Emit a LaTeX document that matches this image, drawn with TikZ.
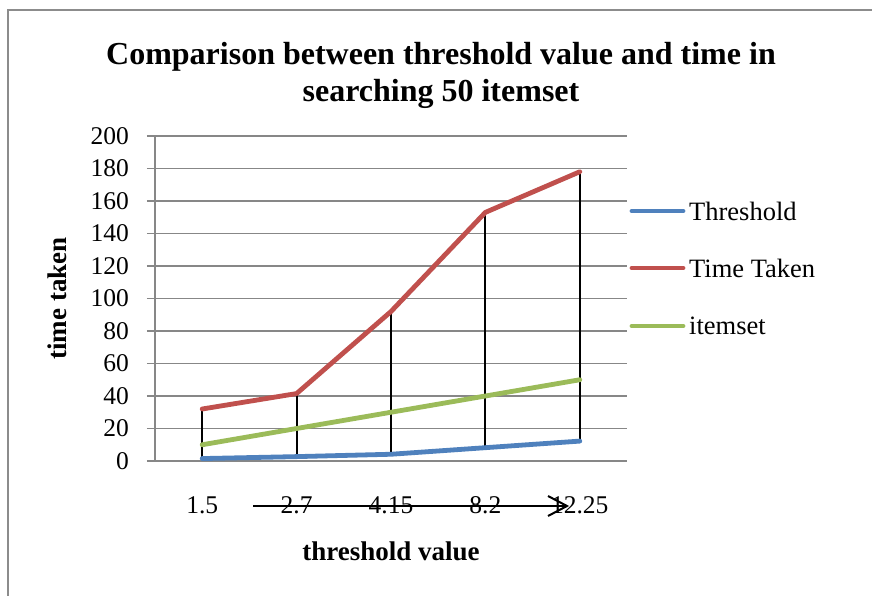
\documentclass[tikz,border=0pt]{standalone}
\usepackage{fontspec}
\setmainfont{Liberation Serif}
\begin{document}
\begin{tikzpicture}[x=1pt,y=-1pt,
  frameline/.style={draw=black!45,line width=2pt},
  gridline/.style={draw=black!47,line width=1.4pt},
  series/.style={line width=4.8pt,line cap=round,line join=round},
  dropline/.style={draw=black,line width=2pt},
  ticklabel/.style={inner sep=0pt,font=\fontsize{25.5}{30}\selectfont},
  axistitle/.style={inner sep=0pt,font=\fontsize{27}{32}\selectfont\bfseries},
  legendtext/.style={inner sep=0pt,anchor=west,font=\fontsize{26.5}{31}\selectfont}]
\definecolor{serblue}{HTML}{4F81BD}
\definecolor{serred}{HTML}{C0504D}
\definecolor{sergreen}{HTML}{9BBB59}
\useasboundingbox (0,0) rectangle (872,596);
\fill[white] (0,0) rectangle (872,596);
% chart frame (open to the right and bottom edges)
\draw[frameline] (7.5,600) -- (7.5,10) -- (880,10);
% title
\node[font=\fontsize{32}{37}\selectfont\bfseries,align=center,inner sep=0pt] (title) at (441,75)
  {Comparison between threshold value and time in\\searching 50 itemset};
% plot area: categories at x = 0..4, values in data units
\begin{scope}[shift={(202.2,461)},x=94.4pt,y=1.625pt]
  \foreach \v in {0,20,...,200} {
    \draw[gridline] (-0.5853,\v) -- (4.5,\v);
    \node[ticklabel,anchor=east] (yl\v) at (-0.775,\v) {\v};
  }
  \draw[gridline] (-0.5,0) -- (-0.5,200);
  % data points
  \foreach \i/\a/\b/\c in {0/1.5/32/10,1/2.7/41.5/20,2/4.15/92/30,3/8.2/153/40,4/12.25/178/50} {
    \coordinate (th\i) at (\i,\a);
    \coordinate (tt\i) at (\i,\b);
    \coordinate (it\i) at (\i,\c);
  }
  % high-low lines
  \foreach \i in {0,...,4} \draw[dropline] (tt\i) -- (th\i);
  \draw[series,draw=serblue] (th0) -- (th1) -- (th2) -- (th3) -- (th4);
  \draw[series,draw=sergreen] (it0) -- (it1) -- (it2) -- (it3) -- (it4);
  \draw[series,draw=serred] (tt0) -- (tt1) -- (tt2) -- (tt3) -- (tt4);
  % category labels
  \foreach \i/\t in {0/1.5,1/2.7,2/4.15,3/8.2,4/12.25}
    \node[ticklabel] (xl\i) at (\i,-27) {\t};
\end{scope}
% arrow along the category axis
\coordinate (arrA) at (253,506);
\coordinate (arrB) at (567,506);
\draw[line width=2pt] (arrA) -- (arrB);
\draw[line width=2pt,line join=miter] ([shift={(-19,-10)}]arrB) -- (arrB) -- ([shift={(-19,10)}]arrB);
% axis titles
\node[axistitle,rotate=90] (ytitle) at (57,298.5) {time taken};
\node[axistitle] (xtitle) at (391,551) {threshold value};
% legend
\foreach \n/\c/\t/\y in {lg1/serblue/Threshold/211,lg2/serred/Time Taken/268,lg3/sergreen/itemset/326} {
  \draw[line width=4.8pt,line cap=round,draw=\c] (632,\y) -- (683,\y);
  \node[legendtext] (\n) at (689,\y) {\t};
}
\end{tikzpicture}
\end{document}
